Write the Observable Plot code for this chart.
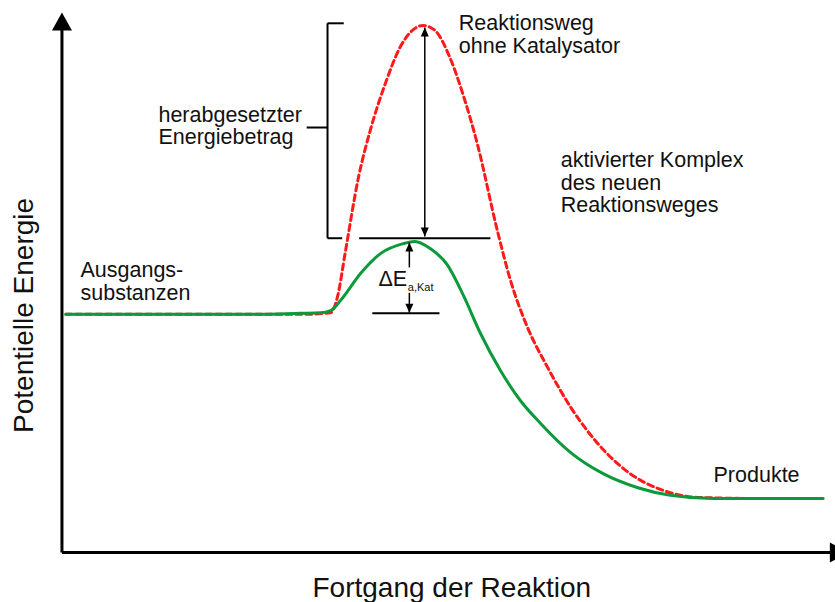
<!DOCTYPE html>
<html>
<head>
<meta charset="utf-8">
<script src="https://cdn.jsdelivr.net/npm/d3@7"></script>
<script src="https://cdn.jsdelivr.net/npm/@observablehq/plot@0.6"></script>
<style>
  html, body { margin: 0; padding: 0; background: white; overflow: hidden; }
</style>
</head>
<body>
<div id="chart"></div>
<script>
// Reaction progress (0–100) and potential energy (0–100)
const greenProgress = [0.3, 11.3, 24.2, 30.7, 33.3, 34.6, 35.9, 38.5, 41.1, 44.0, 45.5, 47.5, 49.7, 51.8, 54.0, 56.6, 59.2, 61.8, 65.7, 69.9, 74.4, 78.6, 84.2, 90.3, 98.4];
const greenEnergy   = [44.1, 44.1, 44.1, 44.3, 44.4, 44.8, 46.7, 51.7, 55.4, 57.2, 57.6, 56.3, 53.3, 47.6, 40.6, 33.7, 28.1, 23.9, 18.5, 14.6, 12.0, 10.6, 10.0, 10.0, 10.0];

const redProgress = [0.3, 11.3, 24.2, 30.7, 34.6, 35.5, 36.5, 38.2, 39.8, 41.7, 43.65, 45.2, 46.6, 48.1, 50.1, 51.8, 53.6, 56.2, 57.9, 60.1, 62.7, 65.7, 69.2, 73.4, 77.7, 82.1, 90.3, 98.4];
const redEnergy   = [44.1, 44.1, 44.1, 44.1, 44.4, 47.4, 55.6, 69.4, 78.5, 86.9, 93.7, 96.7, 97.6, 96.7, 91.5, 84.6, 75.7, 59.6, 50.4, 41.7, 34.3, 26.9, 20.2, 14.6, 11.5, 10.2, 10.0, 10.0];

// Annotation line segments (data units)
const bracketSegments = [
  {x1: 34.2, y1: 98.0, x2: 34.2, y2: 58.2},
  {x1: 34.2, y1: 98.0, x2: 36.3, y2: 98.0},
  {x1: 34.2, y1: 58.2, x2: 36.1, y2: 58.2},
  {x1: 31.5, y1: 78.7, x2: 34.2, y2: 78.7}
];
const levelSegments = [
  {x1: 38.3, y1: 58.2, x2: 55.3, y2: 58.2},
  {x1: 40.0, y1: 44.3, x2: 48.7, y2: 44.3}
];
const arrowShafts = [
  {x1: 46.8, y1: 97.2, x2: 46.8, y2: 58.5},
  {x1: 44.8, y1: 52.8, x2: 44.8, y2: 57.4},
  {x1: 44.8, y1: 48.1, x2: 44.8, y2: 44.4}
];
const arrowTips = [
  {x: 46.8, y: 97.2, rotate: 0},
  {x: 46.8, y: 58.5, rotate: 180},
  {x: 44.8, y: 57.4, rotate: 0},
  {x: 44.8, y: 44.4, rotate: 180}
];
const axisLines = [
  {x1: -0.2, y1: 0, x2: -0.2, y2: 98},
  {x1: -0.2, y1: 0, x2: 100, y2: 0}
];
const axisTips = [
  {x: -0.2, y: 100, rotate: 0},
  {x: 101.6, y: 0, rotate: 90}
];

const labels = [
  {text: "Reaktionsweg\nohne Katalysator", x: 51.2, y: 99.7},
  {text: "herabgesetzter\nEnergiebetrag", x: 12.3, y: 82.8},
  {text: "aktivierter Komplex\ndes neuen\nReaktionsweges", x: 64.4, y: 74.4},
  {text: "Ausgangs-\nsubstanzen", x: 2.2, y: 54.0},
  {text: "Produkte", x: 84.2, y: 16.0},
  {text: "\u0394E", x: 40.8, y: 52.3}
];
const subLabels = [{text: "a,Kat", x: 44.6, y: 49.8}];
const xTitle = [{text: "Fortgang der Reaktion", x: 50.3, y: -4.6}];
const yTitle = [{text: "Potentielle Energie", x: -6.5, y: 43.9}];

const green = greenProgress.map((p, i) => ({p, e: greenEnergy[i]}));
const red = redProgress.map((p, i) => ({p, e: redEnergy[i]}));

function tipSymbol(w, h) {
  return {draw(ctx) { ctx.moveTo(0, 0); ctx.lineTo(-w / 2, h); ctx.lineTo(w / 2, h); ctx.closePath(); }};
}

const chart = Plot.plot({
  width: 835,
  height: 602,
  marginLeft: 63,
  marginRight: 0,
  marginTop: 12,
  marginBottom: 50,
  x: {domain: [0, 100], axis: null},
  y: {domain: [0, 100], axis: null},
  style: {fontFamily: "'Liberation Sans', Arial, sans-serif", background: "white", overflow: "visible"},
  marks: [
    Plot.link(axisLines, {x1: "x1", y1: "y1", x2: "x2", y2: "y2", stroke: "black", strokeWidth: 3}),
    Plot.dot(axisTips, {x: "x", y: "y", rotate: "rotate", symbol: tipSymbol(20, 18), fill: "black", stroke: "none"}),
    Plot.line(red, {x: "p", y: "e", curve: "monotone-x", stroke: "#ff1a1a", strokeWidth: 3, strokeDasharray: "6,4"}),
    Plot.line(green, {x: "p", y: "e", curve: "monotone-x", stroke: "#0a9a3c", strokeWidth: 3}),
    Plot.link(bracketSegments, {x1: "x1", y1: "y1", x2: "x2", y2: "y2", stroke: "black", strokeWidth: 2}),
    Plot.link(levelSegments, {x1: "x1", y1: "y1", x2: "x2", y2: "y2", stroke: "black", strokeWidth: 2}),
    Plot.link(arrowShafts, {x1: "x1", y1: "y1", x2: "x2", y2: "y2", stroke: "black", strokeWidth: 1.5}),
    Plot.dot(arrowTips, {x: "x", y: "y", rotate: "rotate", symbol: tipSymbol(8, 9), fill: "black", stroke: "none"}),
    Plot.text(labels, {x: "x", y: "y", text: "text", textAnchor: "start", lineAnchor: "top", fontSize: 21.5, lineHeight: 1.06, fill: "#111"}),
    Plot.text(subLabels, {x: "x", y: "y", text: "text", textAnchor: "start", lineAnchor: "top", fontSize: 11, fill: "#111"}),
    Plot.text(xTitle, {x: "x", y: "y", text: "text", textAnchor: "middle", lineAnchor: "top", fontSize: 28, fill: "#111"}),
    Plot.text(yTitle, {x: "x", y: "y", text: "text", textAnchor: "middle", lineAnchor: "top", rotate: -90, fontSize: 28, fill: "#111"})
  ]
});
document.getElementById("chart").appendChild(chart);
</script>
</body>
</html>
